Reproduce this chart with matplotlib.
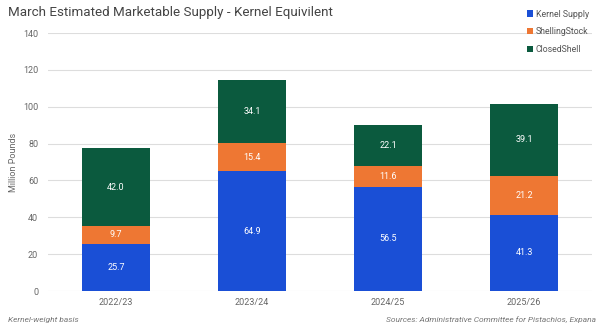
import matplotlib
matplotlib.use("Agg")
import matplotlib.pyplot as plt
import numpy as np

plt.rcParams['font.family'] = ['Roboto', 'DejaVu Sans']

categories = ["2022/23", "2023/24", "2024/25", "2025/26"]
kernel = [25.7, 64.9, 56.5, 41.3]
shelling = [9.7, 15.4, 11.6, 21.2]
closed = [42.0, 34.1, 22.1, 39.1]
series_names = ["Kernel Supply", "ShellingStock", "ClosedShell"]
colors = ["#1a4fd6", "#ee7733", "#0b5a3e"]
yticks = [0, 20, 40, 60, 80, 100, 120, 140]

fig = plt.figure(figsize=(6, 3.27), dpi=100)
ax = fig.add_axes([0.08, 0.11, 0.907, 0.789])

x = np.arange(len(categories))
bottom = np.zeros(len(categories))
handles = []
for vals, name, c in zip([kernel, shelling, closed], series_names, colors):
    bars = ax.bar(x, vals, 0.5, bottom=bottom, color=c, label=name, zorder=3)
    handles.append(bars)
    for xi, v, b in zip(x, vals, bottom):
        ax.text(xi, b + v / 2, f"{v:.1f}", ha="center", va="center",
                color="white", fontsize=6.5, zorder=4)
    bottom += np.array(vals)

ax.set_xlim(-0.5, 3.5)
ax.set_ylim(0, 140)
ax.set_yticks(yticks)
ax.set_xticks(x)
ax.set_xticklabels(categories)
ax.tick_params(axis="both", length=0, labelsize=6.5, colors="#666666")
ax.tick_params(axis="y", pad=7)
ax.tick_params(axis="x", pad=5)
ax.grid(axis="y", color="#dddddd", linewidth=0.8, zorder=0)
for s in ax.spines.values():
    s.set_visible(False)
ax.set_ylabel("Million Pounds", fontsize=6.5, color="#666666")
ax.yaxis.set_label_coords(-0.055, 0.5)

fig.text(0.013, 0.963, "March Estimated Marketable Supply - Kernel Equivilent",
         fontsize=9.6, color="#444444", va="center", ha="left")
fig.text(0.013, 0.022, "Kernel-weight basis", fontsize=6, style="italic",
         color="#777777", va="center", ha="left")
fig.text(0.993, 0.022, "Sources: Administrative Committee for Pistachios, Expana",
         fontsize=6, style="italic", color="#777777", va="center", ha="right")

leg = fig.legend(handles=handles, labels=series_names, loc="upper right",
                 bbox_to_anchor=(0.995, 0.995), frameon=False, fontsize=6.3,
                 handlelength=0.7, handleheight=0.7, handletextpad=0.3,
                 labelspacing=1.0, labelcolor="#555555")

fig.savefig("out.png", dpi=100, facecolor="white")
